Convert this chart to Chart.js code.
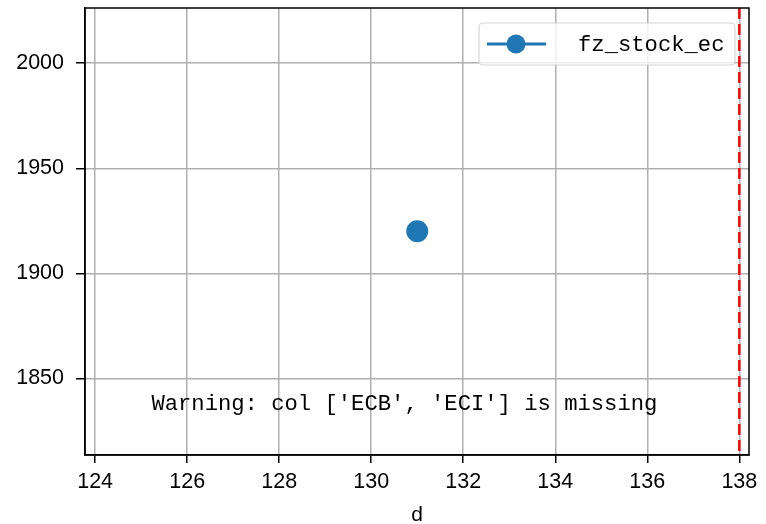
<!DOCTYPE html>
<html>
<head>
<meta charset="utf-8">
<script src="https://cdn.jsdelivr.net/npm/chart.js@4"></script>
<style>
  html, body { margin: 0; padding: 0; background: #fff; }
  #wrap { width: 766px; height: 524px; }
</style>
</head>
<body>
<div id="wrap"><canvas id="chart" width="766" height="524"></canvas></div>
<script>
// data
const seriesName = 'fz_stock_ec';
const xValues = [131];
const yValues = [1920];
const xTicks = [124, 126, 128, 130, 132, 134, 136, 138];
const yTicks = [1850, 1900, 1950, 2000];
const xRange = [123.78, 138.21];
const yRange = [1813.5, 2026.3];
const markerX = 138;
const warningText = "Warning: col ['ECB', 'ECI'] is missing";

const blue = '#1f77b4';
const monoFont = '"Liberation Mono", "DejaVu Sans Mono", monospace';
const sansFont = '"Liberation Sans", Arial, sans-serif';

const ctx = document.getElementById('chart').getContext('2d');

const extras = {
  id: 'extras',
  afterDatasetsDraw: chart => {
    const c = chart.ctx;
    const area = chart.chartArea;
    const xs = chart.scales.x;

    // red dashed vertical line
    const vx = xs.getPixelForValue(markerX);
    c.save();
    c.strokeStyle = '#ff0000';
    c.lineWidth = 2.5;
    c.setLineDash([11, 5]);
    c.beginPath();
    c.moveTo(vx, area.top);
    c.lineTo(vx, area.bottom);
    c.stroke();
    c.restore();
  },
  afterDraw: chart => {
    const c = chart.ctx;
    const area = chart.chartArea;

    // frame
    c.save();
    c.strokeStyle = '#000';
    c.lineWidth = 1.5;
    c.strokeRect(area.left, area.top, area.right - area.left, area.bottom - area.top);
    c.restore();

    // warning text at axes fraction (0.1, ~0.1)
    c.save();
    c.fillStyle = '#000';
    c.font = '22.2px ' + monoFont;
    c.textAlign = 'left';
    c.textBaseline = 'alphabetic';
    const w = area.right - area.left, h = area.bottom - area.top;
    c.fillText(warningText, area.left + 0.1 * w, area.bottom - 0.1 * h);
    c.restore();

    // legend box
    const bx = 479, by = 23, bw = 256, bh = 42;
    c.save();
    c.fillStyle = 'rgba(255,255,255,0.8)';
    c.strokeStyle = '#d6d6d6';
    c.lineWidth = 1.2;
    c.beginPath();
    c.roundRect(bx, by, bw, bh, 4);
    c.fill();
    c.stroke();
    const ly = by + bh / 2;
    c.strokeStyle = blue;
    c.lineWidth = 3;
    c.beginPath();
    c.moveTo(bx + 8, ly);
    c.lineTo(bx + 67, ly);
    c.stroke();
    c.fillStyle = blue;
    c.beginPath();
    c.arc(bx + 37, ly, 9.5, 0, Math.PI * 2);
    c.fill();
    c.fillStyle = '#000';
    c.font = '22.2px ' + monoFont;
    c.textBaseline = 'middle';
    c.fillText(chart.data.datasets[0].label, bx + 99, ly + 1);
    c.restore();
  }
};

const config = {
  type: 'scatter',
  data: {
    datasets: [
      {
        label: seriesName,
        data: xValues.map((x, i) => ({ x: x, y: yValues[i] })),
        backgroundColor: blue,
        borderColor: blue,
        pointRadius: 9.5,
        pointHoverRadius: 9.5,
        showLine: true,
        borderWidth: 3
      }
    ]
  },
  options: {
    responsive: false,
    animation: false,
    events: [],
    layout: {
      autoPadding: false,
      padding: { left: 0, right: 17, top: 8, bottom: 0 }
    },
    plugins: {
      legend: { display: false },
      tooltip: { enabled: false }
    },
    scales: {
      x: {
        type: 'linear',
        min: xRange[0],
        max: xRange[1],
        afterBuildTicks: scale => {
          scale.ticks = xTicks.map(v => ({ value: v }));
        },
        afterFit: scale => {
          scale.height = 69;
          scale.paddingLeft = 0;
          scale.paddingRight = 0;
        },
        grid: {
          color: '#b0b0b0',
          lineWidth: 1.5,
          tickColor: '#000',
          tickLength: 8,
          tickWidth: 1.5
        },
        border: { display: true, color: '#000', width: 1.5 },
        ticks: {
          color: '#000',
          font: { family: sansFont, size: 21.5 },
          padding: 6,
          maxRotation: 0,
          autoSkip: false,
          callback: v => String(v)
        },
        title: {
          display: true,
          text: 'd',
          color: '#000',
          font: { family: sansFont, size: 21 },
          padding: { top: 11, bottom: -4 }
        }
      },
      y: {
        type: 'linear',
        min: yRange[0],
        max: yRange[1],
        afterBuildTicks: scale => {
          scale.ticks = yTicks.map(v => ({ value: v }));
        },
        afterFit: scale => {
          scale.width = 85;
          scale.paddingTop = 0;
          scale.paddingBottom = 0;
        },
        grid: {
          color: '#b0b0b0',
          lineWidth: 1.5,
          tickColor: '#000',
          tickLength: 9,
          tickWidth: 1.5
        },
        border: { display: true, color: '#000', width: 1.5 },
        ticks: {
          color: '#000',
          font: { family: sansFont, size: 21.5 },
          padding: 12,
          autoSkip: false,
          callback: v => String(v)
        }
      }
    }
  },
  plugins: [extras]
};

new Chart(ctx, config);
</script>
</body>
</html>
